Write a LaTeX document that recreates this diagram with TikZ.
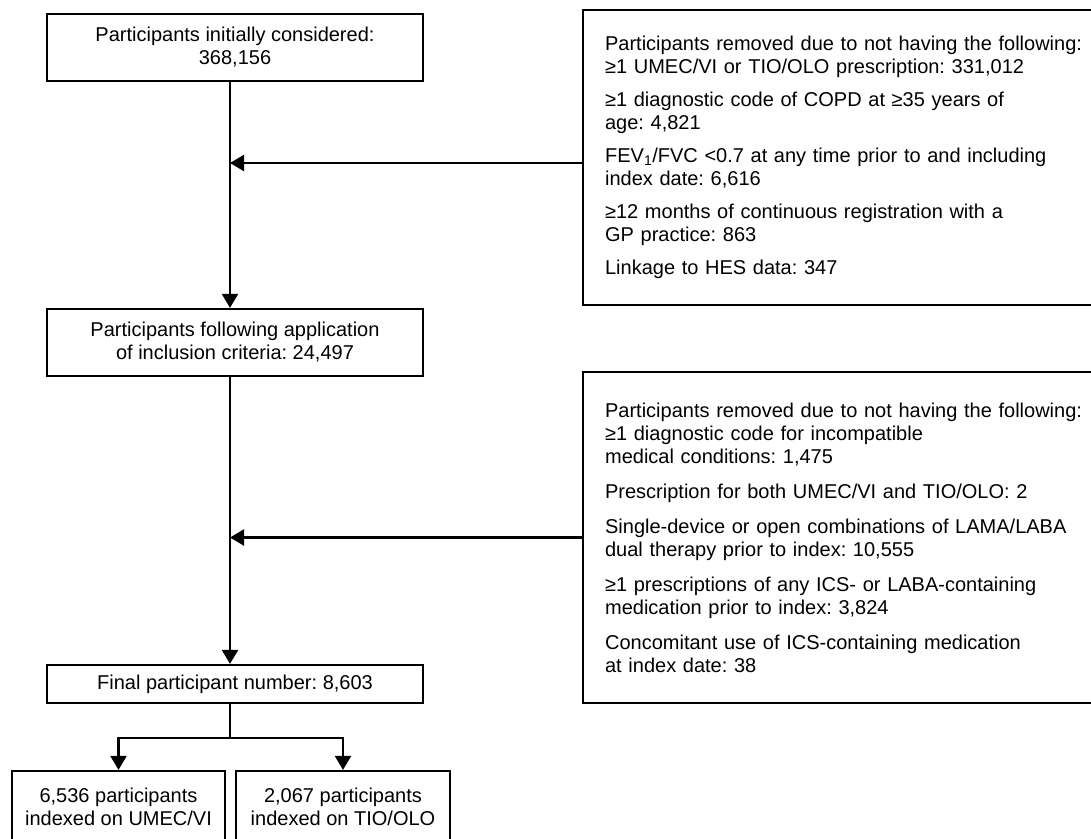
\documentclass[tikz,border=0pt]{standalone}
\usepackage{fontspec}
\setmainfont{Liberation Sans}
\frenchspacing
\usetikzlibrary{arrows.meta, positioning}

\begin{document}
\begin{tikzpicture}[
    x=1pt, y=-1pt,
    every node/.style={font=\fontsize{20}{23}\selectfont},
    mainbox/.style={rectangle, draw, line width=2.2pt, minimum width=376pt, align=center, inner sep=0pt},
    exclbox/.style={rectangle, draw, line width=2.2pt, anchor=west, text width=500pt, align=left, inner xsep=22pt, inner ysep=0pt},
    armbox/.style={rectangle, draw, line width=2.2pt, minimum width=213pt, minimum height=72pt, align=center, inner sep=0pt},
    flow/.style={draw, line width=2.2pt, -{Triangle[width=16pt,length=14pt]}},
    link/.style={draw, line width=2.2pt}
]
\useasboundingbox (0,0) rectangle (1091,838);
\coordinate (spine) at (230,0);

\node[mainbox, minimum height=67pt] (start) at (235,47.5) {Participants initially considered:\\368,156};
\node[mainbox, minimum height=67pt] (incl) at (235,342.5) {Participants following application\\of inclusion criteria: 24,497};
\node[mainbox, minimum height=38pt] (final) at (235,684) {Final participant number: 8,603};
\node[armbox] (umec) at (118.5,807) {6,536 participants\\indexed on UMEC/VI};
\node[armbox, minimum width=214pt] (tio) at (343,807) {2,067 participants\\indexed on TIO/OLO};

\node[exclbox, minimum height=295pt] (exclA) at (582,157.5) {%
    Participants removed due to not having the following:\\
    ≥1 UMEC/VI or TIO/OLO prescription: 331,012\\[10pt]
    ≥1 diagnostic code of COPD at ≥35 years of\\
    age: 4,821\\[10pt]
    FEV\textsubscript{1}/FVC <0.7 at any time prior to and including\\
    index date: 6,616\\[10pt]
    ≥12 months of continuous registration with a\\
    GP practice: 863\\[10pt]
    Linkage to HES data: 347};
\node[exclbox, minimum height=331pt] (exclB) at (582,537.5) {%
    Participants removed due to not having the following:\\
    ≥1 diagnostic code for incompatible\\
    medical conditions: 1,475\\[12pt]
    Prescription for both UMEC/VI and TIO/OLO: 2\\[12pt]
    Single-device or open combinations of LAMA/LABA\\
    dual therapy prior to index: 10,555\\[12pt]
    ≥1 prescriptions of any ICS- or LABA-containing\\
    medication prior to index: 3,824\\[12pt]
    Concomitant use of ICS-containing medication\\
    at index date: 38};

\draw[flow] (start.south -| spine) -- (incl.north -| spine);
\draw[flow] ([yshift=-5.5pt]exclA.west) -- ([yshift=-5.5pt]exclA.west -| spine);
\draw[flow] (incl.south -| spine) -- (final.north -| spine);
\draw[flow] (exclB.west) -- (exclB.west -| spine);
\draw[link] (final.south -| spine) -- ++(0,34) coordinate (split);
\draw[flow] (split) -| (umec.north);
\draw[flow] (split) -| (tio.north);
\end{tikzpicture}
\end{document}
